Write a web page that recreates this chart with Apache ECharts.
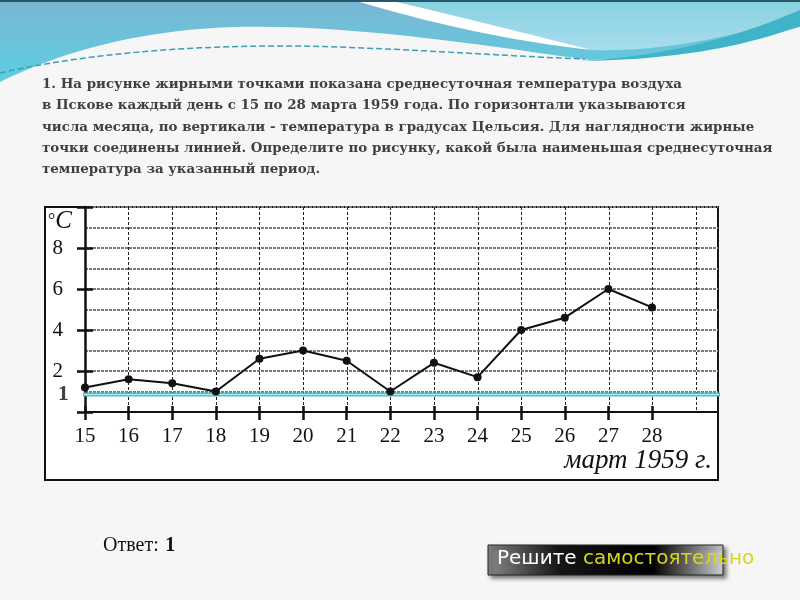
<!DOCTYPE html>
<html>
<head>
<meta charset="utf-8">
<script src="https://cdn.jsdelivr.net/npm/echarts@6/dist/echarts.min.js"></script>
<style>html,body{margin:0;padding:0;background:#f6f6f6;}#c{width:800px;height:600px;}</style>
</head>
<body>
<div id="c"></div>
<script>
// ---- data ----
var days = [15, 16, 17, 18, 19, 20, 21, 22, 23, 24, 25, 26, 27, 28];
var temps = [1.2, 1.6, 1.4, 1.0, 2.6, 3.0, 2.5, 1.0, 2.4, 1.7, 4.0, 4.6, 6.0, 5.1];
var yTickLabels = ['2', '4', '6', '8'];
var answerValue = 0.85;
var answerLabel = '1';
var titleLines = [
  '1. На рисунке жирными точками показана среднесуточная температура воздуха',
  'в Пскове каждый день с 15 по 28 марта 1959 года. По горизонтали указываются',
  'числа месяца, по вертикали - температура в градусах Цельсия. Для наглядности жирные',
  'точки соединены линией. Определите по рисунку, какой была наименьшая среднесуточная',
  'температура за указанный период.'
];
var periodLabel = 'март 1959 г.';
var answerText = 'Ответ:';
var answerNum = '1';
var btnWhite = 'Решите ';
var btnYellow = 'самостоятельно';

// decoration helper: simple path (M, L, C, Z) to polyline points
function pathPts(d) {
  var tok = d.match(/[MLCZ]|-?\d+(\.\d+)?/g), pts = [], i = 0, cur = [0, 0], cmd;
  while (i < tok.length) {
    var t = tok[i];
    if (/[MLCZ]/.test(t)) { cmd = t; i++; if (cmd === 'Z') continue; }
    if (cmd === 'M' || cmd === 'L') {
      cur = [+tok[i], +tok[i + 1]]; pts.push(cur); i += 2;
    } else if (cmd === 'C') {
      var p1 = [+tok[i], +tok[i + 1]], p2 = [+tok[i + 2], +tok[i + 3]], p3 = [+tok[i + 4], +tok[i + 5]];
      for (var k = 1; k <= 24; k++) {
        var s = k / 24, u = 1 - s;
        pts.push([u*u*u*cur[0] + 3*u*u*s*p1[0] + 3*u*s*s*p2[0] + s*s*s*p3[0],
                  u*u*u*cur[1] + 3*u*u*s*p1[1] + 3*u*s*s*p2[1] + s*s*s*p3[1]]);
      }
      cur = p3; i += 6;
    } else { i++; }
  }
  return pts;
}
function lin(x2, y2, stops) { return {type: 'linear', x: 0, y: 0, x2: x2, y2: y2, colorStops: stops}; }

var chart = echarts.init(document.getElementById('c'));
var serif = '"Liberation Serif", "DejaVu Serif", serif';
var gridLineV = {type: [3, 2], color: '#222', width: 1};
var gridLineH = {type: [3, 1], color: '#7a7a7a', width: 2};

var graphics = [
  {type: 'polygon', z: 0, shape: {points: pathPts('M0,0 L800,0 L800,27 C730,45 660,58 590,60 C480,45 350,24 233,27 C140,30 60,52 0,82 Z')},
   style: {fill: lin(0, 1, [{offset: 0, color: '#7ab6d3'}, {offset: 1, color: '#5ccfe1'}])}},
  {type: 'polygon', z: 0, shape: {points: pathPts('M388,0 L800,0 L800,14 C730,40 650,52 592,50 C520,32 450,14 388,0 Z')},
   style: {fill: lin(0, 1, [{offset: 0, color: '#86d2de'}, {offset: 1, color: '#a9dcee'}])}},
  {type: 'polygon', z: 0, shape: {points: pathPts('M353,0 L388,0 C450,14 520,32 592,50 C500,40 420,20 353,0 Z')},
   style: {fill: '#ffffff'}},
  {type: 'polygon', z: 0, shape: {points: pathPts('M580,61 C670,56 740,36 800,10 L800,26 C740,48 670,60 580,61 Z')},
   style: {fill: '#3fb4c9'}},
  {type: 'polyline', z: 0, shape: {points: pathPts('M0,73 C80,55 180,45 300,46 C400,48 500,56 585,59')},
   style: {fill: null, stroke: '#3a9fb2', lineWidth: 1.5, lineDash: [6, 3]}},
  {type: 'rect', z: 0, shape: {x: 0, y: 0, width: 800, height: 2}, style: {fill: '#23596b'}},
  // chart frame
  {type: 'rect', z: 0, shape: {x: 45, y: 207, width: 673, height: 273}, style: {fill: '#ffffff', stroke: '#111', lineWidth: 2}},
  {type: 'rect', z: 0, shape: {x: 45, y: 206, width: 673, height: 2}, style: {fill: '#111'}},
  // texts
  {type: 'text', z: 5, left: 48, top: 209, style: {text: '{d|°}{c|C}', rich: {d: {font: '18px ' + serif, fill: '#111'}, c: {font: 'italic 25px ' + serif, fill: '#111'}}}},
  {type: 'text', z: 5, right: 88, top: 447, style: {text: periodLabel, font: 'italic 27px ' + serif, fill: '#111'}},
  {type: 'text', z: 5, left: 103, top: 536, style: {text: '{a|' + answerText + '}  {b|' + answerNum + '}', rich: {a: {font: '20px ' + serif, fill: '#111'}, b: {font: 'bold 20px ' + serif, fill: '#111'}}}},
  // button
  {type: 'rect', z: 5, shape: {x: 488, y: 545, width: 235, height: 30},
   style: {fill: lin(1, 0, [{offset: 0, color: '#8a8a8a'}, {offset: 0.3, color: '#161616'}, {offset: 0.7, color: '#000'}, {offset: 1, color: '#cfcfcf'}]),
     stroke: '#222', lineWidth: 1, shadowBlur: 4, shadowOffsetX: 3, shadowOffsetY: 3, shadowColor: 'rgba(0,0,0,0.5)'}},
  {type: 'text', z: 6, left: 497, top: 549, style: {text: '{w|' + btnWhite + '}{y|' + btnYellow + '}', rich: {w: {font: '20px "DejaVu Sans", sans-serif', fill: '#ffffff'}, y: {font: '20px "DejaVu Sans", sans-serif', fill: '#d6d61e'}}}}
];
titleLines.forEach(function (t, i) {
  graphics.push({type: 'text', z: 5, left: 42, top: 78 + i * 21.3, style: {text: t, font: 'bold 13.4px "DejaVu Serif", serif', fill: '#404040'}});
});

var option = {
  backgroundColor: '#f6f6f6',
  animation: false,
  graphic: graphics,
  grid: [
    {left: 85, top: 207, width: 633, height: 205},
    {left: 85, top: 207, width: 567, height: 205}
  ],
  xAxis: [
    {gridIndex: 0, type: 'value', position: 'bottom', min: 15, max: 29.5, interval: 1,
     axisLine: {show: true, lineStyle: {color: '#111', width: 2}}, axisTick: {show: false}, axisLabel: {show: false},
     splitLine: {show: true, lineStyle: gridLineV}},
    {gridIndex: 1, type: 'value', position: 'bottom', min: 15, max: 28, interval: 1,
     axisLine: {show: false}, axisTick: {show: true, length: 8, lineStyle: {color: '#111', width: 2.5}},
     axisLabel: {show: true, margin: 14, fontFamily: serif, fontSize: 21, color: '#111'}, splitLine: {show: false}},
    {gridIndex: 1, type: 'value', position: 'bottom', min: 15, max: 28, interval: 1,
     axisLine: {show: false}, axisTick: {show: true, inside: true, length: 6, lineStyle: {color: '#111', width: 2.5}},
     axisLabel: {show: false}, splitLine: {show: false}}
  ],
  yAxis: [
    {gridIndex: 0, type: 'value', position: 'left', min: 0, max: 10, interval: 2,
     axisLine: {show: true, lineStyle: {color: '#111', width: 2.5}},
     axisTick: {show: true, length: 8, lineStyle: {color: '#111', width: 2.5}},
     axisLabel: {show: true, margin: 22, fontFamily: serif, fontSize: 21, color: '#111',
       formatter: function (v) { return yTickLabels.indexOf(String(v)) >= 0 ? String(v) : ''; }},
     splitLine: {show: true, lineStyle: gridLineH},
     minorTick: {show: false, splitNumber: 2},
     minorSplitLine: {show: true, lineStyle: gridLineH}},
    {gridIndex: 0, type: 'value', position: 'left', min: 0, max: 10, interval: 2,
     axisLine: {show: false}, axisTick: {show: true, inside: true, length: 8, lineStyle: {color: '#111', width: 2.5}},
     axisLabel: {show: false}, splitLine: {show: false}},
    {gridIndex: 1, type: 'value', min: 0, max: 10, show: false}
  ],
  series: [
    {type: 'line', xAxisIndex: 0, yAxisIndex: 0, clip: false, symbol: 'none', z: 3,
     data: [[14.9, answerValue], [29.55, answerValue]],
     lineStyle: {color: '#3cc5d1', width: 4}},
    {type: 'line', xAxisIndex: 0, yAxisIndex: 0, clip: false, symbol: 'none', z: 3,
     data: [[14.9, answerValue], [29.55, answerValue]],
     lineStyle: {color: '#bdf0f4', width: 1}},
    {type: 'scatter', xAxisIndex: 0, yAxisIndex: 0, symbolSize: 2, clip: false, silent: true, z: 5,
     itemStyle: {color: 'rgba(0,0,0,0)'},
     data: [[14.9, answerValue]],
     label: {show: true, position: 'left', distance: 11, formatter: answerLabel, fontFamily: serif, fontWeight: 'bold', fontSize: 22, color: '#111'}},
    {type: 'line', xAxisIndex: 1, yAxisIndex: 2, z: 4,
     data: days.map(function (d, i) { return [d, temps[i]]; }),
     symbol: 'circle', symbolSize: 8, itemStyle: {color: '#111'},
     lineStyle: {color: '#111', width: 2}}
  ]
};
chart.setOption(option);
</script>
</body>
</html>
